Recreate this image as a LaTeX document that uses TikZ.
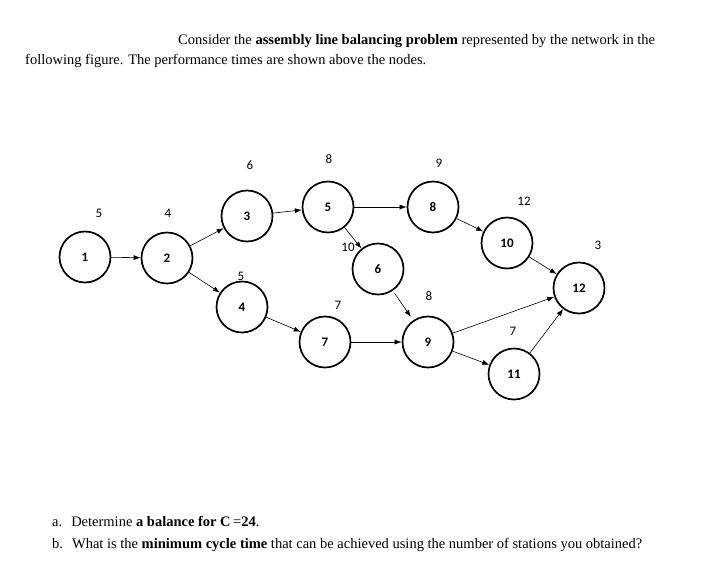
\documentclass[tikz,border=0pt]{standalone}
\usepackage{fontspec}
\setmainfont{Liberation Serif}
\newfontfamily\carfont{Carlito}
\usetikzlibrary{arrows.meta}
\begin{document}
\begin{tikzpicture}[x=1pt,y=-1pt,
  task/.style={circle,draw,line width=1.7pt,minimum size=51pt,inner sep=0pt,font=\carfont\bfseries\fontsize{13}{15}\selectfont},
  tm/.style={font=\carfont\fontsize{13}{15}\selectfont},
  txt/.style={anchor=base west,inner sep=0pt,font=\fontsize{14.5}{17}\selectfont},
  arr/.style={-{Latex[length=7pt,width=5pt]},line width=0.6pt}]
\useasboundingbox (0,0) rectangle (719,570);
\node[txt] (t1) at (178,44) {Consider the \textbf{assembly line balancing problem} represented by the network in the};
\node[txt] (t2) at (25,64) {following figure. The performance times are shown above the nodes.};
\node[txt] (ta) at (52,526) {a.\hspace{9pt}Determine \textbf{a balance for C}\,=\textbf{24}.};
\node[txt] (tb) at (52,548) {b.\hspace{9pt}What is the \textbf{minimum cycle time} that can be achieved using the number of stations you obtained?};
\node[task] (n1) at (85,257) {1};
\node[task] (n2) at (167,258) {2};
\node[task] (n3) at (247,216) {3};
\node[task] (n5) at (328,207) {5};
\node[task] (n4) at (242,307) {4};
\node[task] (n7) at (325,342) {7};
\node[task] (n6) at (378,269) {6};
\node[task] (n8) at (433,207) {8};
\node[task] (n10) at (507,243) {10};
\node[task] (n12) at (579,288) {12};
\node[task] (n9) at (428,342) {9};
\node[task] (n11) at (514,374) {11};
\node[tm] (l1) at (99,213) {5};
\node[tm] (l2) at (168,213) {4};
\node[tm] (l3) at (250,165) {6};
\node[tm] (l5) at (329,159) {8};
\node[tm] (l4) at (241,276) {5};
\node[tm] (l7) at (338,305) {7};
\node[tm] (l6) at (348,247) {10};
\node[tm] (l8) at (439,163) {9};
\node[tm] (l10) at (524,201) {12};
\node[tm] (l12) at (598,245) {3};
\node[tm] (l9) at (429,296) {8};
\node[tm] (l11) at (513,331) {7};
\draw[arr] (n1) -- (n2);
\draw[arr] (n2) -- (n3);
\draw[arr] (n2) -- (n4);
\draw[arr] (n3) -- (n5);
\draw[arr] (n4) -- (n7);
\draw[arr] (n5) -- (n8);
\draw[arr] (n5) -- (n6);
\draw[arr,shorten >=4pt,shorten <=3pt] (n6) -- (n9);
\draw[arr] (n7) -- (n9);
\draw[arr] (n8) -- (n10);
\draw[arr] (n10) -- (n12);
\draw[arr] (n9) -- (n12);
\draw[arr] (n9) -- (n11);
\draw[arr] (n11) -- (n12);
\end{tikzpicture}
\end{document}
